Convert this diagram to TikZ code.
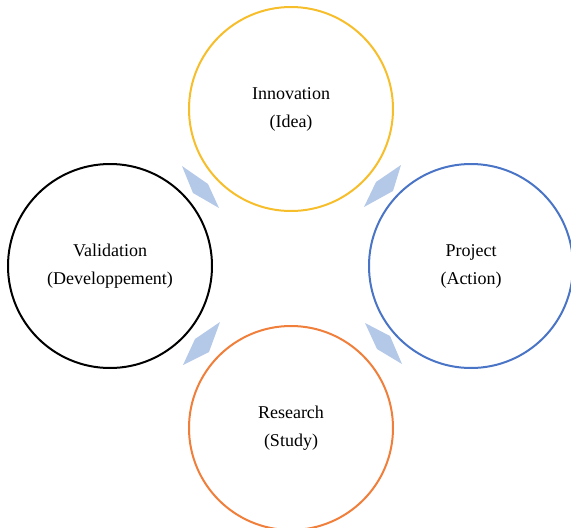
\documentclass[tikz,border=0pt]{standalone}
\usepackage{fontspec}
\setmainfont{Liberation Serif}
\begin{document}
\begin{tikzpicture}[x=1pt,y=-1pt,
  ring/.style={circle,draw,line width=2pt,minimum size=204pt,inner sep=0pt,
    align=center,font=\fontsize{18}{28}\selectfont},
  kite/.style={fill=arrowblue,draw=none}]
\definecolor{ideagold}{HTML}{F7BE2B}
\definecolor{actionblue}{HTML}{4A74C6}
\definecolor{studyorange}{HTML}{EF7F3A}
\definecolor{arrowblue}{HTML}{B4C8E8}
\useasboundingbox (0,0) rectangle (571,528);

\node[ring,draw=ideagold] (idea) at (291,109) {Innovation\\(Idea)};
\node[ring,draw=black] (dev) at (110,266) {Validation\\(Developpement)};
\node[ring,draw=actionblue] (action) at (471,266) {Project\\(Action)};
\node[ring,draw=studyorange] (study) at (291,428) {Research\\(Study)};

% diamond markers between neighbouring circles
\fill[kite] (182,166) -- (208,184) -- (219,208) -- (193,193) -- cycle;
\fill[kite] (401,165) -- (393,191) -- (364,207) -- (376,182) -- cycle;
\fill[kite] (220,322) -- (209,352) -- (183,365) -- (195,339) -- cycle;
\fill[kite] (365,323) -- (390,336) -- (402,364) -- (377,349) -- cycle;
\end{tikzpicture}
\end{document}
